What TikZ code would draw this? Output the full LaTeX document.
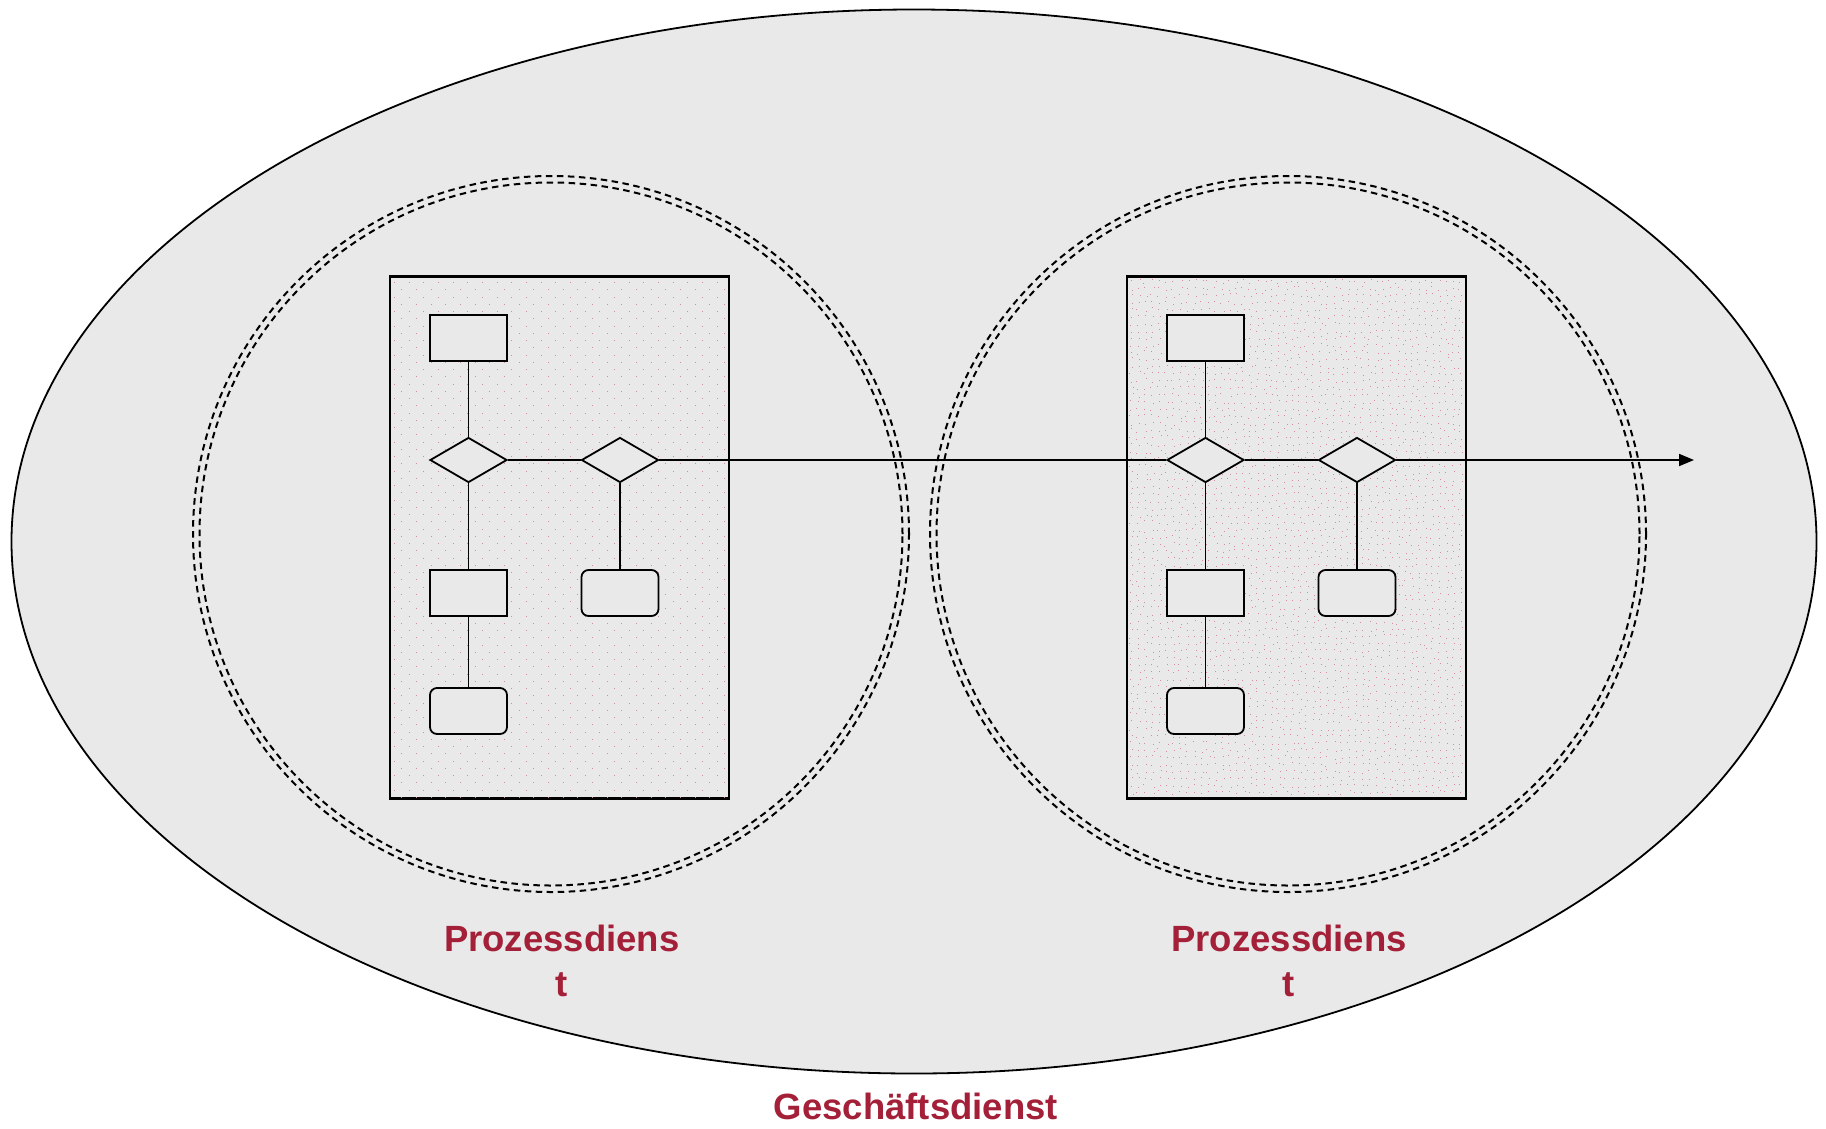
\documentclass[tikz,border=0pt]{standalone}
\usepackage{fontspec}
\setmainfont{Liberation Sans}
\usetikzlibrary{shapes.geometric,arrows.meta}
\definecolor{bgray}{RGB}{233,233,233}
\definecolor{dred}{RGB}{163,32,56}
\definecolor{pdot}{RGB}{214,140,158}
\begin{document}
\begin{tikzpicture}[x=1pt,y=-1pt,line width=1.8pt,
  box/.style={draw,fill=bgray,minimum width=77pt,minimum height=46pt,inner sep=0pt},
  rbox/.style={box,rounded corners=7pt},
  dec/.style={draw,fill=bgray,diamond,minimum width=77pt,minimum height=45pt,inner sep=0pt},
  frame/.style={draw,fill=bgray,minimum width=338pt,minimum height=521pt,inner sep=0pt},
  dcirc/.style={draw,circle,dash pattern=on 6.5pt off 4.5pt,line width=2pt,inner sep=0pt},
  lbl/.style={font=\fontsize{36.5}{44}\selectfont\bfseries,text=dred,inner sep=0pt},
  flow/.style={line width=1.8pt}]
\useasboundingbox (0,0) rectangle (1826,1128);
% outer ellipse
\node[draw,ellipse,fill=bgray,minimum width=1805pt,minimum height=1064pt,line width=1.8pt,inner sep=0pt] (geschaeft) at (914,541.5) {};
% double dashed circles
\node[dcirc,minimum size=716pt] (lco) at (551,534) {};
\node[dcirc,minimum size=703pt] (lci) at (551,534) {};
\node[dcirc,minimum size=716pt] (rco) at (1288,534) {};
\node[dcirc,minimum size=703pt] (rci) at (1288,534) {};
% process frames
\node[frame] (lrect) at (559.5,537.5) {};
\node[frame] (rrect) at (1296.5,537.5) {};
% dotted textures
\begin{scope}
  \clip (lrect.south west) rectangle (lrect.north east);
  \foreach \i in {0,...,23}{
    \foreach \j in {0,...,71}{
      \fill[pdot] ({394+\i*14.67+mod(\j,2)*7.33},{282+\j*7.25}) rectangle +(1,1);
    }
  }
\end{scope}
\begin{scope}
  \pgfmathsetseed{7}
  \clip (rrect.south west) rectangle (rrect.north east);
  \foreach \i in {0,...,47}{
    \foreach \j in {0,...,72}{
      \fill[pdot] ({1131+\i*7+rand*2},{281+\j*7.1+rand*2}) rectangle +(1,1);
    }
  }
\end{scope}
\draw (lrect.south west) rectangle (lrect.north east);
\draw (rrect.south west) rectangle (rrect.north east);
% left process
\node[box] (la) at (468.5,338) {};
\node[dec] (ld1) at (468.5,460) {};
\node[dec] (ld2) at (620,460) {};
\node[box] (lb) at (468.5,593) {};
\node[rbox] (lc) at (468.5,711) {};
\node[rbox] (le) at (620,593) {};
% right process
\node[box] (ra) at (1205.5,338) {};
\node[dec] (rd1) at (1205.5,460) {};
\node[dec] (rd2) at (1357,460) {};
\node[box] (rb) at (1205.5,593) {};
\node[rbox] (rc) at (1205.5,711) {};
\node[rbox] (re) at (1357,593) {};
\coordinate (aend) at (1694,460);
% connectors
\draw[flow] (la) -- (ld1);
\draw[flow] (ld1) -- (lb);
\draw[flow] (lb) -- (lc);
\draw[flow] (ld1) -- (ld2);
\draw[flow] (ld2) -- (le);
\draw[flow] (ld2) -- (rd1);
\draw[flow] (ra) -- (rd1);
\draw[flow] (rd1) -- (rb);
\draw[flow] (rb) -- (rc);
\draw[flow] (rd1) -- (rd2);
\draw[flow] (rd2) -- (re);
\draw[flow,-{Triangle[length=15pt,width=12pt]}] (rd2) -- (aend);
% labels
\node[lbl,anchor=base] (p1a) at (561.7,951.7) {Prozessdiens};
\node[lbl,anchor=base] (p1b) at (561.7,996.7) {t};
\node[lbl,anchor=base] (p2a) at (1289,951.7) {Prozessdiens};
\node[lbl,anchor=base] (p2b) at (1289,996.7) {t};
\node[lbl,anchor=base] (gd) at (915.8,1119) {Geschäftsdienst};
\end{tikzpicture}
\end{document}
